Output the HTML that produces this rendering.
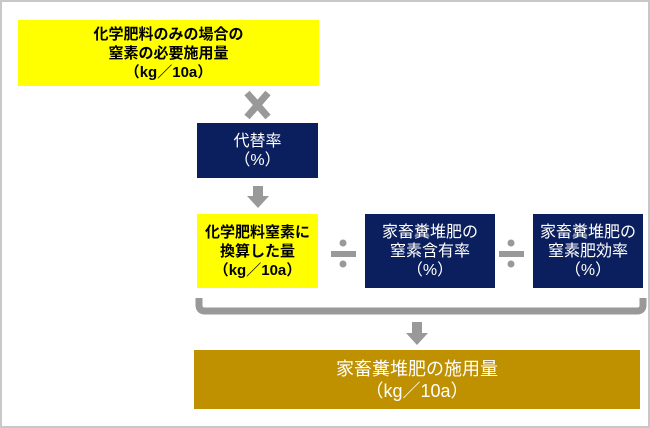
<!DOCTYPE html>
<html><head><meta charset="utf-8"><style>
html,body{margin:0;padding:0;background:#fff}
#c{position:relative;width:646px;height:424px;border:2px solid #c8c8c8;overflow:hidden;font-family:"Liberation Sans","Noto Sans CJK JP",sans-serif;font-weight:bold;font-size:15px;line-height:19px}
.b{position:absolute;display:flex;align-items:center;justify-content:center;text-align:center}
.y{background:#ffff00;color:#000}
.n{background:#0b1f5e;color:#fff;font-weight:normal;font-size:16px}
.g{background:#bf9000;color:#fff;font-weight:normal;font-size:18px;line-height:22px}
</style></head><body><div id="c">
<div class="b y" style="left:16px;top:18px;width:301px;height:66px">化学肥料のみの場合の<br>窒素の必要施用量<br>（kg／10a）</div>
<svg style="position:absolute;left:0;top:0" width="646" height="424">
<g stroke="#999" stroke-width="7"><line x1="245" y1="91" x2="266" y2="115"/><line x1="266" y1="91" x2="245" y2="115"/></g>
<rect x="251" y="184" width="10" height="11" fill="#999"/><polygon points="245,194 267,194 256,206" fill="#999"/>
<rect x="410" y="320" width="10" height="12" fill="#999"/><polygon points="404,331 426,331 415,343" fill="#999"/>
<rect x="329" y="249" width="25" height="6" fill="#999"/><circle cx="341" cy="241" r="3.5" fill="#999"/><circle cx="341" cy="262" r="3.5" fill="#999"/>
<rect x="497" y="249" width="25" height="6" fill="#999"/><circle cx="509" cy="241" r="3.5" fill="#999"/><circle cx="509" cy="262" r="3.5" fill="#999"/>
<path d="M197 296 V303 Q197 309 203 309 H635 Q641 309 641 303 V296" fill="none" stroke="#999" stroke-width="7"/>
</svg>
<div class="b n" style="left:195px;top:121px;width:121px;height:55px">代替率<br>（%）</div>
<div class="b y" style="left:195px;top:212px;width:121px;height:74px">化学肥料窒素に<br>換算した量<br>（kg／10a）</div>
<div class="b n" style="left:363px;top:212px;width:130px;height:74px">家畜糞堆肥の<br>窒素含有率<br>（%）</div>
<div class="b n" style="left:531px;top:212px;width:110px;height:74px">家畜糞堆肥の<br>窒素肥効率<br>（%）</div>
<div class="b g" style="left:192px;top:348px;width:446px;height:59px">家畜糞堆肥の施用量<br>（kg／10a）</div>
</div></body></html>
